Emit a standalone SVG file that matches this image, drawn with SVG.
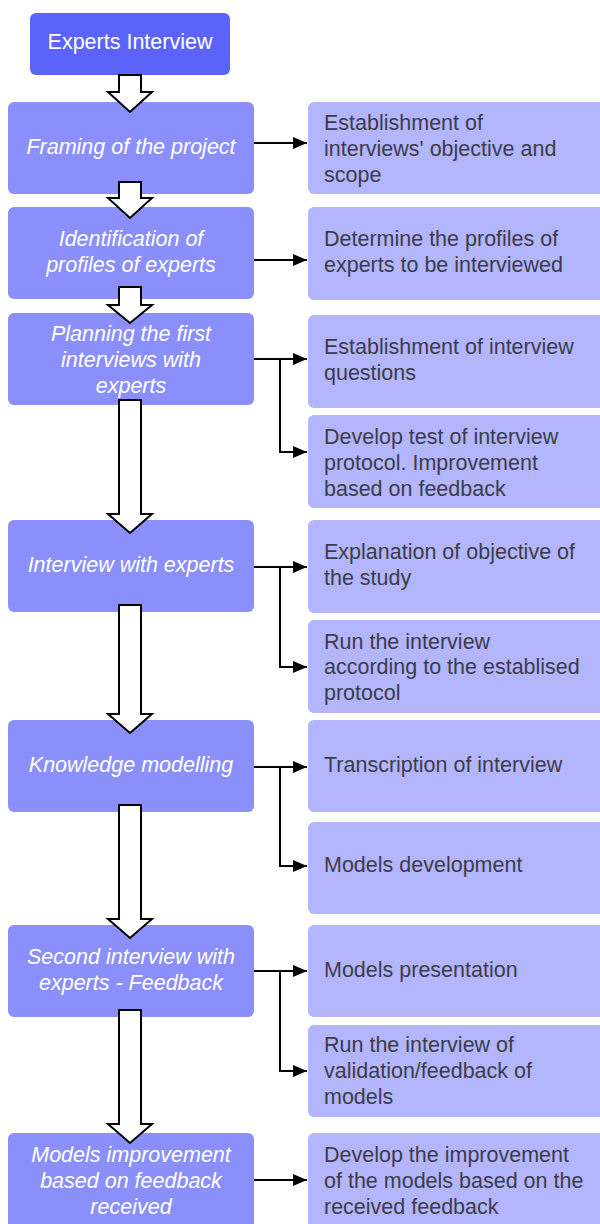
<svg xmlns="http://www.w3.org/2000/svg" width="600" height="1224" viewBox="0 0 600 1224">
<style>
.top{fill:#5b63fb}
.step{fill:#8a8ffc}
.task{fill:#b3b5fd}
.lt{font-family:"Liberation Sans",Arial,sans-serif;font-size:21.5px;fill:#ffffff;font-style:italic;text-anchor:middle}
.tt{font-family:"Liberation Sans",Arial,sans-serif;font-size:21.5px;fill:#ffffff;text-anchor:middle}
.rt{font-family:"Liberation Sans",Arial,sans-serif;font-size:21.5px;fill:#3c3c4a}
.con{fill:none;stroke:#000;stroke-width:2}
.blk{fill:#fff;stroke:#000;stroke-width:2;stroke-linejoin:miter}
</style>
<defs>
<marker id="ah" markerWidth="14" markerHeight="12" refX="14" refY="6" orient="auto" markerUnits="userSpaceOnUse" viewBox="0 0 14 12">
<path d="M0,0 L14,6 L0,12 z" fill="#000"/>
</marker>
</defs>

<g id="n0"><rect class="top" x="30" y="13" width="200" height="62" rx="6"/><text class="tt" x="130" y="49">Experts Interview</text></g>

<g id="n1"><rect class="step" x="8" y="102" width="246" height="92" rx="6"/><text class="lt" x="131" y="154">Framing of the project</text></g>
<g id="n2"><rect class="step" x="8" y="207" width="246" height="92" rx="6"/><text class="lt" x="131" y="246">Identification of</text><text class="lt" x="131" y="272">profiles of experts</text></g>
<g id="n3"><rect class="step" x="8" y="313" width="246" height="92" rx="6"/><text class="lt" x="131" y="341">Planning the first</text><text class="lt" x="131" y="367">interviews with</text><text class="lt" x="131" y="393">experts</text></g>
<g id="n4"><rect class="step" x="8" y="520" width="246" height="92" rx="6"/><text class="lt" x="131" y="572">Interview with experts</text></g>
<g id="n5"><rect class="step" x="8" y="720" width="246" height="92" rx="6"/><text class="lt" x="131" y="772">Knowledge modelling</text></g>
<g id="n6"><rect class="step" x="8" y="925" width="246" height="92" rx="6"/><text class="lt" x="131" y="964">Second interview with</text><text class="lt" x="131" y="990">experts - Feedback</text></g>
<g id="n7"><rect class="step" x="8" y="1133" width="246" height="96" rx="6"/><text class="lt" x="131" y="1162">Models improvement</text><text class="lt" x="131" y="1188">based on feedback</text><text class="lt" x="131" y="1214">received</text></g>

<g id="r1"><rect class="task" x="308" y="102" width="300" height="92" rx="6"/><text class="rt" x="324" y="130">Establishment of</text><text class="rt" x="324" y="156">interviews' objective and</text><text class="rt" x="324" y="182">scope</text></g>
<g id="r2"><rect class="task" x="308" y="207" width="300" height="93" rx="6"/><text class="rt" x="324" y="246">Determine the profiles of</text><text class="rt" x="324" y="272">experts to be interviewed</text></g>
<g id="r3"><rect class="task" x="308" y="315" width="300" height="93" rx="6"/><text class="rt" x="324" y="354">Establishment of interview</text><text class="rt" x="324" y="380">questions</text></g>
<g id="r4"><rect class="task" x="308" y="415" width="300" height="93" rx="6"/><text class="rt" x="324" y="444">Develop test of interview</text><text class="rt" x="324" y="470">protocol. Improvement</text><text class="rt" x="324" y="496">based on feedback</text></g>
<g id="r5"><rect class="task" x="308" y="520" width="300" height="93" rx="6"/><text class="rt" x="324" y="559">Explanation of objective of</text><text class="rt" x="324" y="585">the study</text></g>
<g id="r6"><rect class="task" x="308" y="620" width="300" height="93" rx="6"/><text class="rt" x="324" y="649">Run the interview</text><text class="rt" x="324" y="674">according to the establised</text><text class="rt" x="324" y="700">protocol</text></g>
<g id="r7"><rect class="task" x="308" y="720" width="300" height="92" rx="6"/><text class="rt" x="324" y="772">Transcription of interview</text></g>
<g id="r8"><rect class="task" x="308" y="822" width="300" height="92" rx="6"/><text class="rt" x="324" y="872">Models development</text></g>
<g id="r9"><rect class="task" x="308" y="925" width="300" height="92" rx="6"/><text class="rt" x="324" y="977">Models presentation</text></g>
<g id="r10"><rect class="task" x="308" y="1025" width="300" height="92" rx="6"/><text class="rt" x="324" y="1052">Run the interview of</text><text class="rt" x="324" y="1078">validation/feedback of</text><text class="rt" x="324" y="1104">models</text></g>
<g id="r11"><rect class="task" x="308" y="1133" width="300" height="96" rx="6"/><text class="rt" x="324" y="1162">Develop the improvement</text><text class="rt" x="324" y="1188">of the models based on the</text><text class="rt" x="324" y="1214">received feedback</text></g>

<g id="connectors">
<path class="blk" d="M119,75 V92 H108 L130,112 L152,92 H141 V75 Z"/>
<path class="blk" d="M119,182 V198 H108 L130,218 L152,198 H141 V182 Z"/>
<path class="blk" d="M119,287 V305 H108 L130,323 L152,305 H141 V287 Z"/>
<path class="blk" d="M119,400 V514 H108 L130,533 L152,514 H141 V400 Z"/>
<path class="blk" d="M119,605 V714 H108 L130,733 L152,714 H141 V605 Z"/>
<path class="blk" d="M119,805 V919 H108 L130,938 L152,919 H141 V805 Z"/>
<path class="blk" d="M119,1010 V1124 H108 L130,1143 L152,1124 H141 V1010 Z"/>

<path class="con" d="M254,143 H307" marker-end="url(#ah)"/>
<path class="con" d="M254,260 H307" marker-end="url(#ah)"/>
<path class="con" d="M254,359 H307" marker-end="url(#ah)"/>
<path class="con" d="M280,359 V452 H307" marker-end="url(#ah)"/>
<path class="con" d="M254,567 H307" marker-end="url(#ah)"/>
<path class="con" d="M280,567 V667 H307" marker-end="url(#ah)"/>
<path class="con" d="M254,767 H307" marker-end="url(#ah)"/>
<path class="con" d="M280,767 V866 H307" marker-end="url(#ah)"/>
<path class="con" d="M254,971 H307" marker-end="url(#ah)"/>
<path class="con" d="M280,971 V1071 H307" marker-end="url(#ah)"/>
<path class="con" d="M254,1180 H307" marker-end="url(#ah)"/>
</g>
</svg>
